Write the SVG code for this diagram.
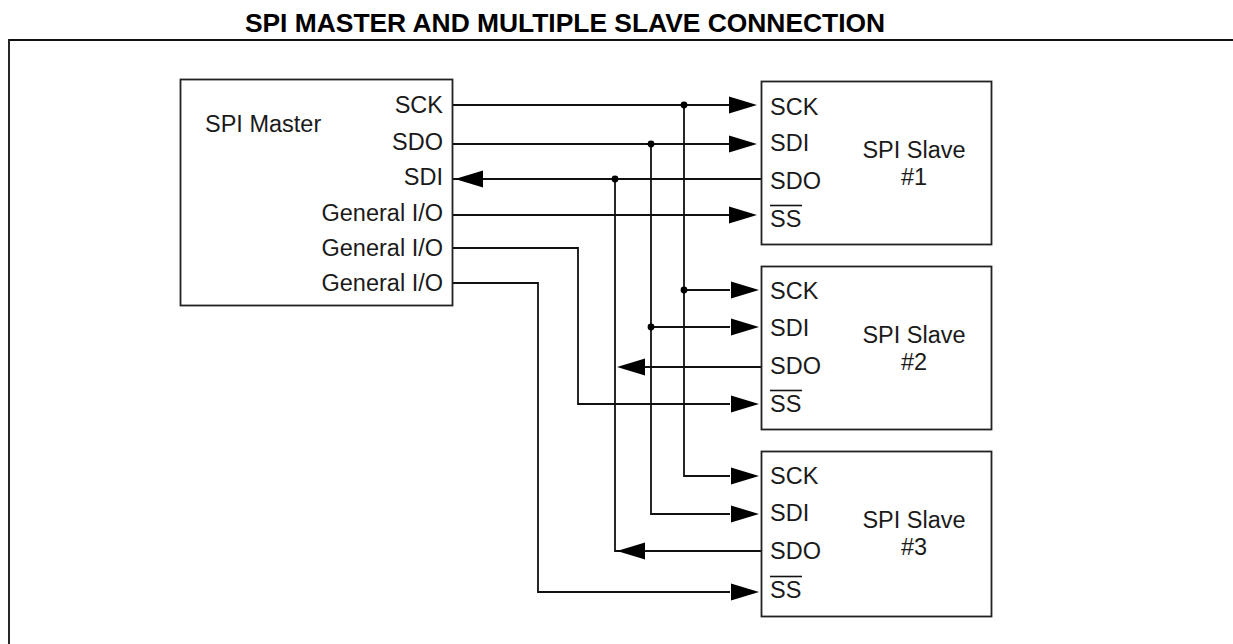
<svg xmlns="http://www.w3.org/2000/svg" width="1233" height="644" viewBox="0 0 1233 644">
<style>
text{font-family:"Liberation Sans",Arial,sans-serif;font-size:23.500px;fill:#1a1a1a}
.e{text-anchor:end}
.m{text-anchor:middle}
.b{fill:#fff;stroke:#222;stroke-width:1.8}
.w{fill:none;stroke:#111;stroke-width:1.8}
.o{stroke:#111;stroke-width:1.6}
.h{fill:#000;stroke:none}
</style>
<defs>
<path id="ar" class="h" d="M0 -8.500L28 0L0 8.500Z"/>
<path id="al" class="h" d="M0 -8.500L-28 0L0 8.500Z"/>
<circle id="d" class="h" r="3.400"/>
</defs>
<rect width="1233" height="644" fill="#fff"/>
<text x="565" y="32" class="m" style="font-weight:700;font-size:26.400px;fill:#000">SPI MASTER AND MULTIPLE SLAVE CONNECTION</text>
<path class="w" d="M1233 40H9V644"/>
<g id="connectors">
<path class="w" d="M453 105H730M453 144H730M453 179H761M453 215H730M453 248H578V404H730M453 283H538V592H730"/>
<path class="w" d="M684 105V476H730M684 290H730M651 144V514H730M651 327H730M615 179V551H645M645 367H761M645 551H761"/>
<use href="#ar" x="729" y="105"/><use href="#ar" x="729" y="144"/><use href="#ar" x="729" y="215"/>
<use href="#ar" x="731" y="290"/><use href="#ar" x="731" y="327"/><use href="#ar" x="731" y="404"/>
<use href="#ar" x="731" y="476"/><use href="#ar" x="731" y="514"/><use href="#ar" x="731" y="592"/>
<use href="#al" x="483" y="179"/><use href="#al" x="645" y="367"/><use href="#al" x="645" y="551"/>
<use href="#d" x="684" y="105"/><use href="#d" x="651" y="144"/><use href="#d" x="615" y="179"/>
<use href="#d" x="684" y="290"/><use href="#d" x="651" y="327"/>
</g>
<g id="master">
<rect class="b" x="180.500" y="79.500" width="272" height="226"/>
<text x="205" y="132">SPI Master</text>
<text x="443" y="113" class="e">SCK</text>
<text x="443" y="150" class="e">SDO</text>
<text x="443" y="185" class="e">SDI</text>
<text x="443" y="221" class="e">General I/O</text>
<text x="443" y="256" class="e">General I/O</text>
<text x="443" y="291" class="e">General I/O</text>
</g>
<g id="slave1">
<rect class="b" x="761.500" y="81.500" width="230" height="163"/>
<text x="770" y="115">SCK</text><text x="770" y="151">SDI</text><text x="770" y="189">SDO</text><text x="770" y="227">SS</text>
<path class="o" d="M770 205.500H802"/>
<text x="914" y="158" class="m">SPI Slave</text><text x="914" y="185" class="m">#1</text>
</g>
<g id="slave2">
<rect class="b" x="761.500" y="266.500" width="230" height="163"/>
<text x="770" y="299">SCK</text><text x="770" y="336">SDI</text><text x="770" y="374">SDO</text><text x="770" y="412">SS</text>
<path class="o" d="M770 390.500H802"/>
<text x="914" y="343" class="m">SPI Slave</text><text x="914" y="370" class="m">#2</text>
</g>
<g id="slave3">
<rect class="b" x="761.500" y="451.500" width="230" height="165"/>
<text x="770" y="484">SCK</text><text x="770" y="521">SDI</text><text x="770" y="559">SDO</text><text x="770" y="598">SS</text>
<path class="o" d="M770 576.500H802"/>
<text x="914" y="528" class="m">SPI Slave</text><text x="914" y="555" class="m">#3</text>
</g>
</svg>
